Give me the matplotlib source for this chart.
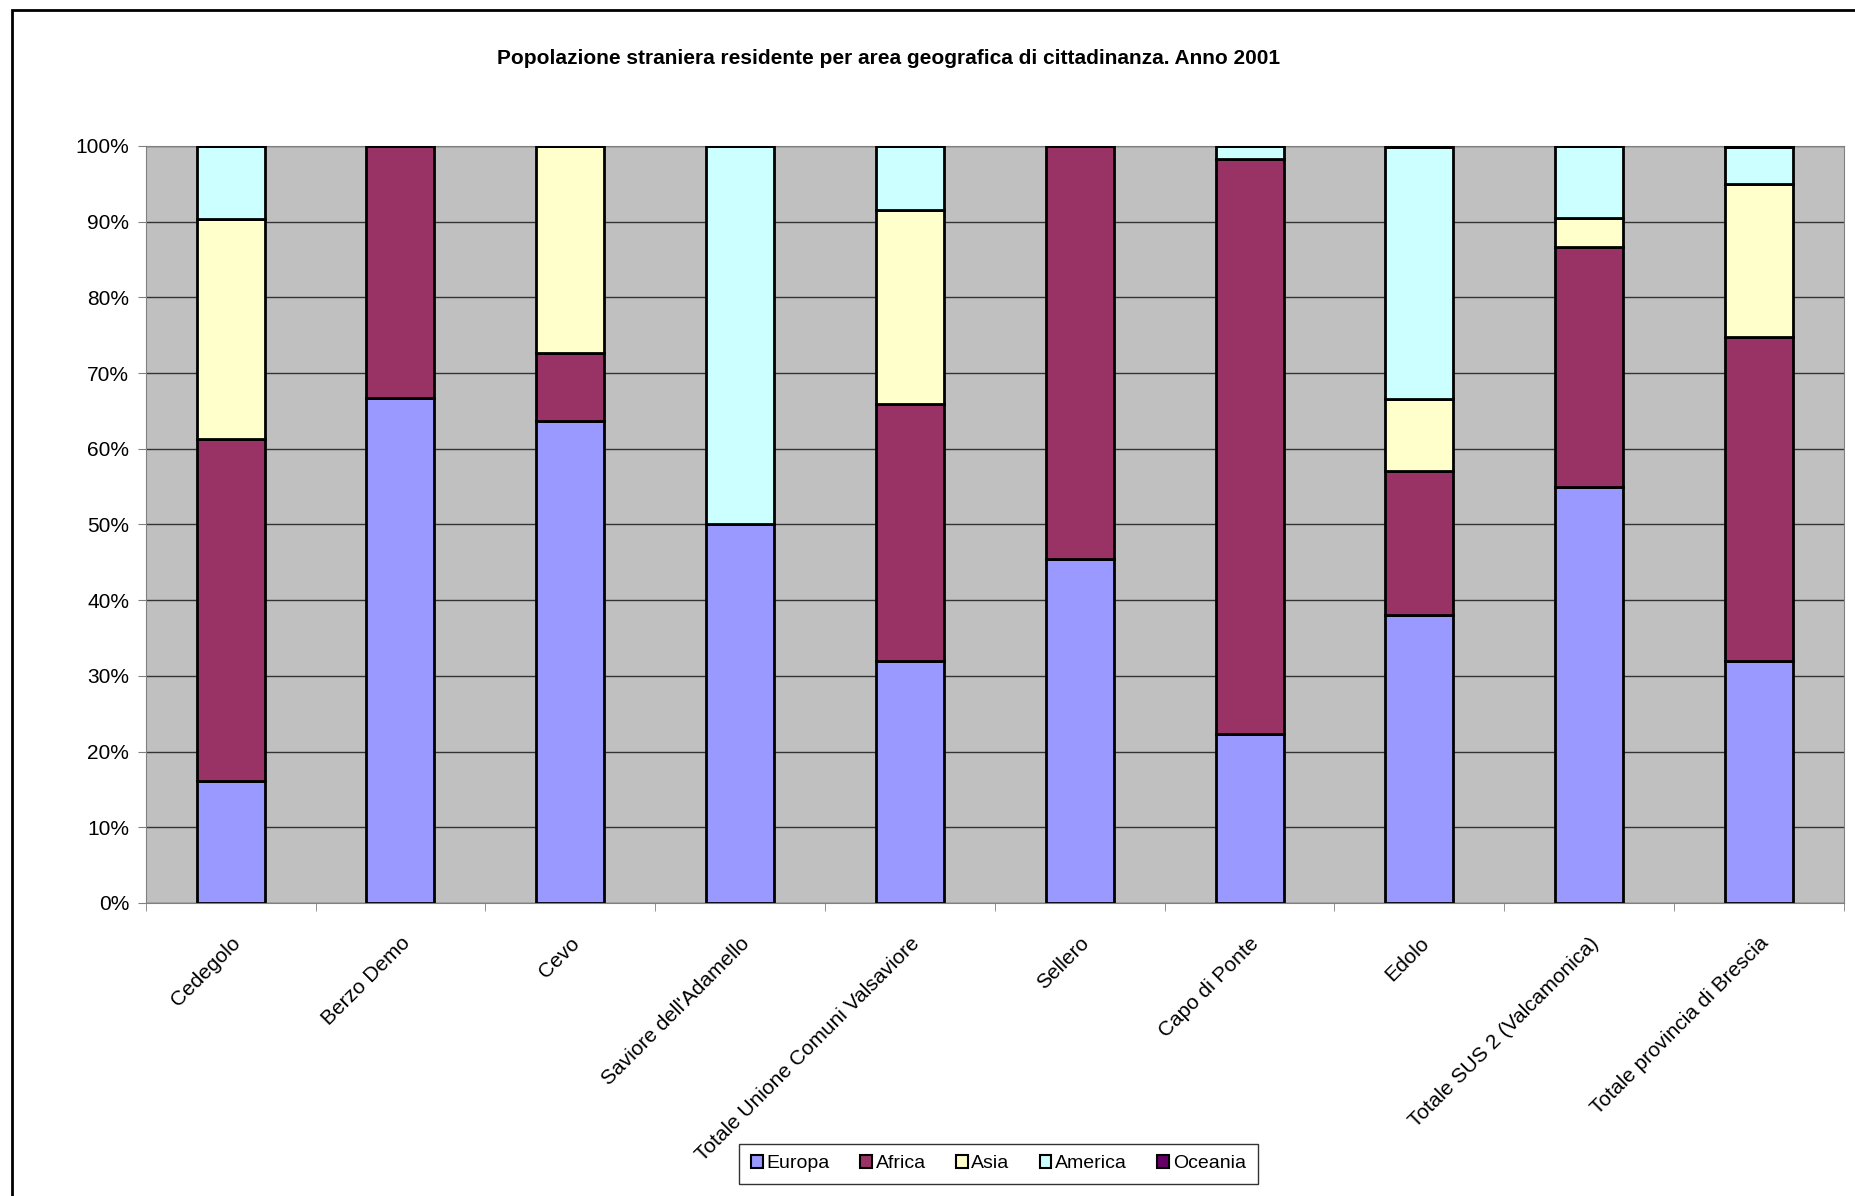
import matplotlib.pyplot as plt
import numpy as np
from matplotlib.patches import Rectangle

plt.rcParams['font.family'] = ['Liberation Sans', 'DejaVu Sans']

# data (percent of resident foreigners by area)
comuni = ["Cedegolo", "Berzo Demo", "Cevo", "Saviore dell'Adamello",
          "Totale Unione Comuni Valsaviore", "Sellero", "Capo di Ponte",
          "Edolo", "Totale SUS 2 (Valcamonica)", "Totale provincia di Brescia"]
europa = [16.1, 66.7, 63.6, 50.0, 31.9, 45.5, 22.3, 38.1, 55.0, 32.0]
africa = [45.2, 33.3, 9.1, 0.0, 34.0, 54.5, 76.0, 19.0, 31.7, 42.7]
asia = [29.0, 0.0, 27.3, 0.0, 25.7, 0.0, 0.0, 9.5, 3.8, 20.3]
america = [9.7, 0.0, 0.0, 50.0, 8.4, 0.0, 1.7, 33.3, 9.5, 4.9]
oceania = [0.0, 0.0, 0.0, 0.0, 0.0, 0.0, 0.0, 0.0, 0.0, 0.1]

series = [("Europa", europa, '#9999FF'),
          ("Africa", africa, '#993366'),
          ("Asia", asia, '#FFFFCC'),
          ("America", america, '#CCFFFF'),
          ("Oceania", oceania, '#660066')]

fig = plt.figure(figsize=(18.56, 11.96), dpi=100, facecolor='w')
ax = fig.add_axes([0.0785, 0.245, 0.915, 0.633])
ax.set_facecolor('#C0C0C0')

x = np.arange(len(comuni))
bottom = np.zeros(len(comuni))
for name, vals, col in series:
    vals = np.array(vals)
    ax.bar(x, vals, 0.4, bottom=bottom, color=col, edgecolor='black',
           linewidth=2, label=name, zorder=3)
    bottom += vals

ax.set_xlim(-0.5, len(comuni) - 0.5)
ax.set_ylim(0, 100)
ax.set_yticks(np.arange(0, 101, 10))
ax.set_yticklabels([str(v) + '%' for v in range(0, 101, 10)], fontsize=15)
ax.yaxis.grid(True, color='#333333', linewidth=1, zorder=0)
ax.set_axisbelow(True)

# category ticks between groups
ax.set_xticks(np.arange(-0.5, len(comuni)), minor=True)
ax.set_xticks(x)
ax.set_xticklabels(comuni, rotation=45, ha='right', rotation_mode='anchor', fontsize=15)
ax.tick_params(axis='x', which='major', length=0, pad=22)
ax.tick_params(axis='x', which='minor', length=6, color='#808080')
ax.tick_params(axis='y', length=6, color='#808080', pad=6)

for s in ['top', 'right', 'left', 'bottom']:
    ax.spines[s].set_color('#808080')

fig.text(0.479, 0.951, "Popolazione straniera residente per area geografica di cittadinanza. Anno 2001",
         ha='center', va='center', fontsize=15, fontweight='bold')

leg = fig.legend(loc='center', bbox_to_anchor=(0.538, 0.027), ncol=5, fontsize=14,
                 frameon=True, fancybox=False, edgecolor='black', handlelength=0.6,
                 handleheight=0.6, handletextpad=0.2, columnspacing=1.55,
                 borderpad=0.6)
leg.get_frame().set_linewidth(1)
for h in leg.legend_handles:
    h.set_linewidth(1.5)

# outer chart border
fig.patches.append(Rectangle((0.0065, -0.05), 1.1, 1.042, transform=fig.transFigure,
                             fill=False, edgecolor='black', linewidth=2))

fig.savefig('out.png', dpi=100)
